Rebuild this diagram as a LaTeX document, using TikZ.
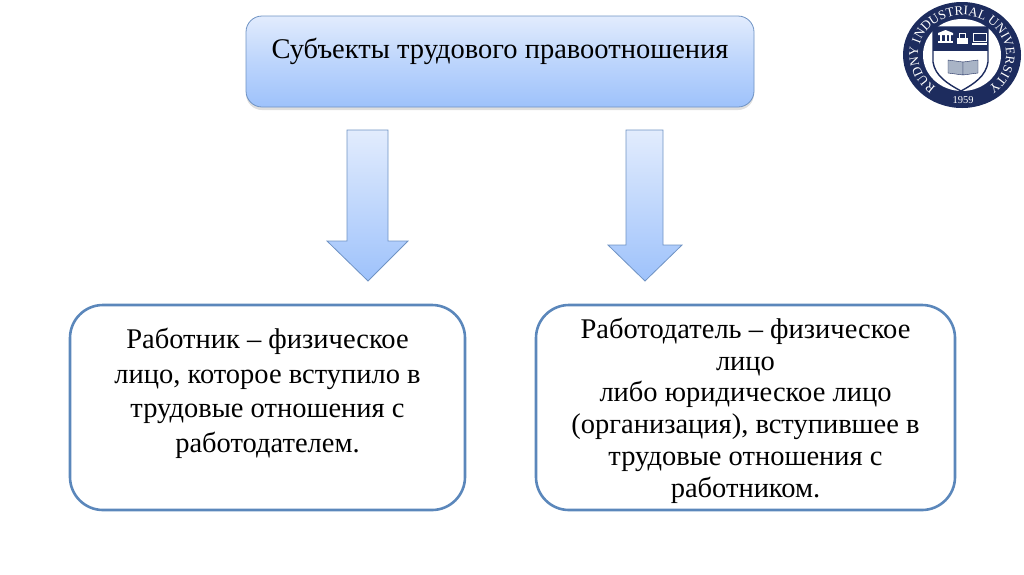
\documentclass[tikz,border=0pt]{standalone}
\usepackage{fontspec}
\setmainfont{Liberation Serif}
\usetikzlibrary{positioning}
\usetikzlibrary{shadows}
\usetikzlibrary{decorations.text}
\definecolor{boxedge}{HTML}{6F93C4}
\definecolor{boxtop}{HTML}{E2ECFD}
\definecolor{boxbottom}{HTML}{9EC2FB}
\definecolor{frameblue}{HTML}{5B87BB}
\definecolor{sealblue}{HTML}{1D2C5E}
\definecolor{bookgrey}{HTML}{A9B4C6}
\tikzset{
    titlebox/.style={draw=boxedge,thick,rounded corners=16pt,top color=boxtop,bottom color=boxbottom,
        middle color=boxtop!45!boxbottom,drop shadow={opacity=0.25,shadow xshift=0pt,shadow yshift=-3pt},
        minimum width=508pt,minimum height=91pt,inner sep=0pt,align=center,
        font=\fontsize{28.5}{27}\selectfont},
    framebox/.style={draw=frameblue,line width=2.6pt,rounded corners=33pt,fill=white,
        minimum height=205pt,inner sep=0pt,align=center},
    downarrow/.style={draw=boxedge,thick,line join=miter,top color=boxtop,bottom color=boxbottom},
    sealtext/.style={font=\fontsize{10.5}{10.5}\selectfont,text=white,inner sep=0pt}
}
\begin{document}
\begin{tikzpicture}[x=1pt,y=-1pt]
    \useasboundingbox (0,0) rectangle (1024,574);

    \node[titlebox] (subjects) at (500,61.5) {Субъекты трудового правоотношения\\~};

    \draw[downarrow] (347,130) -- (388,130) -- (388,241) -- (408,241) -- (368,281) -- (327,241) -- (347,241) -- cycle;
    \draw[downarrow] (626,130) -- (663,130) -- (663,245) -- (682,245) -- (645,281) -- (608,245) -- (626,245) -- cycle;

    \node[framebox,minimum width=395pt,font=\fontsize{28.5}{34.5}\selectfont] (worker) at (267.5,407.5)
        {Работник – физическое\\лицо, которое вступило в\\трудовые отношения с\\работодателем.\\~};
    \node[framebox,minimum width=419pt,text depth=0pt,font=\fontsize{28.5}{31.8}\selectfont] (employer) at (745.5,407.5)
        {\raisebox{-3pt}{Работодатель – физическое}\\[3pt]лицо\\либо юридическое лицо\\(организация), вступившее в\\трудовые отношения с\\работником.};

    % seal
    \fill[sealblue] (962,55) ellipse[x radius=59,y radius=53];
    \fill[white] (962,55) ellipse[x radius=39,y radius=36];
    \path[postaction={decorate,decoration={text along path,text align=center,
        text={|\fontsize{13}{13}\selectfont\color{white}|RUDNY INDUSTRIAL UNIVERSITY}}}]
        (962,55) ++(125:44 and 40) arc[start angle=125,end angle=415,x radius=44,y radius=40];
    \node[sealtext] (year) at (963,100) {1959};

    % shield
    \fill[sealblue] (933,27) rectangle (988,51);
    \draw[sealblue,line width=1.4pt] (933,27) -- (988,27) -- (988,62) .. controls (986,76) and (974,84) .. (961,91) .. controls (948,84) and (935,76) .. (933,62) -- cycle;
    \draw[sealblue,fill=bookgrey] (948,60) -- (963,62) -- (963,75) -- (948,73) -- cycle;
    \draw[sealblue,fill=bookgrey] (978,60) -- (963,62) -- (963,75) -- (978,73) -- cycle;

    % icons
    \fill[white] (938,41) rectangle (953,43);
    \fill[white] (938,33) -- (945.5,30) -- (953,33) -- (953,35) -- (938,35) -- cycle;
    \foreach \x in {940,944.5,949}
        \fill[white] (\x,35) rectangle ++(2,6);
    \fill[white] (957,38) rectangle (968,44);
    \draw[white,thick] (959,38) -- (959,33) -- (965,33) -- (965,38);
    \draw[white,thick] (973,33) rectangle (986,41);
    \fill[white] (972,43) rectangle (987,44.5);
\end{tikzpicture}
\end{document}
